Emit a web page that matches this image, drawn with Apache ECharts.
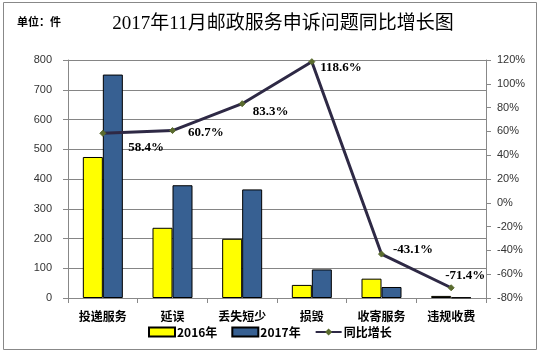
<!DOCTYPE html>
<html>
<head>
<meta charset="utf-8">
<title>2017年11月邮政服务申诉问题同比增长图</title>
<script src="https://cdn.jsdelivr.net/npm/echarts@6/dist/echarts.min.js"></script>
<style>
  html, body { margin: 0; padding: 0; background: #fff; }
  #main { width: 542px; height: 354px; }
</style>
</head>
<body>
<div id="main"></div>
<script type="text/javascript">
    // 数据
    var categories = ['投递服务', '延误', '丢失短少', '损毁', '收寄服务', '违规收费'];
    var data2016 = [474, 236, 199, 44, 65, 7];
    var data2017 = [751, 379, 365, 96, 37, 2];
    var growth = [58.4, 60.7, 83.3, 118.6, -43.1, -71.4];
    var leftTicks = [0, 800, 100];
    var rightTicks = [-80, 120, 20];

    var serif = '"Liberation Serif", "Noto Sans CJK SC", serif';
    var cjk = '"Noto Sans CJK SC", sans-serif';

    // 每个标签的位置不一样
    var labelPos = [
        { position: 'right', offset: [17, 14] },
        { position: 'right', offset: [7, 2] },
        { position: 'right', offset: [2, 8] },
        { position: 'right', offset: [0, 6] },
        { position: 'right', offset: [3, -4] },
        { position: 'top', offset: [14, 3] }
    ];

    var myChart = echarts.init(document.getElementById('main'));

    var option = {
        backgroundColor: '#fff',
        animation: false,
        title: {
            text: '2017年11月邮政服务申诉问题同比增长图',
            left: 278,
            top: 10,
            textAlign: 'center',
            textStyle: { fontFamily: serif, fontSize: 19, fontWeight: 'normal', color: '#000' }
        },
        graphic: [
            {
                type: 'rect',
                shape: { x: 3.5, y: 2.5, width: 533, height: 347 },
                style: { fill: 'none', stroke: '#888', lineWidth: 1 }
            },
            {
                type: 'text',
                left: 17,
                top: 16,
                style: { text: '单位：件', font: 'bold 11px ' + cjk, fill: '#000' }
            }
        ],
        legend: {
            bottom: 11,
            left: 143,
            itemGap: 14,
            itemWidth: 26,
            itemHeight: 9,
            textStyle: { fontFamily: cjk, fontSize: 12, fontWeight: 'bold', color: '#000', padding: [0, 0, 0, -3] },
            data: [
                { name: '2016年', icon: 'rect' },
                { name: '2017年', icon: 'rect' },
                { name: '同比增长' }
            ]
        },
        grid: {
            left: 68,
            right: 56,
            top: 60,
            bottom: 56
        },
        xAxis: {
            type: 'category',
            data: categories,
            axisLine: { lineStyle: { color: '#888' } },
            axisTick: { show: true, alignWithLabel: false, length: 5, lineStyle: { color: '#888' } },
            axisLabel: { fontFamily: cjk, fontSize: 12, fontWeight: 'bold', color: '#000', margin: 12 }
        },
        yAxis: [
            {
                type: 'value',
                min: leftTicks[0],
                max: leftTicks[1],
                interval: leftTicks[2],
                axisLine: { show: true, lineStyle: { color: '#888' } },
                axisTick: { show: true, length: 5, lineStyle: { color: '#888' } },
                axisLabel: { fontFamily: '"Liberation Sans", Arial, sans-serif', fontSize: 11, color: '#333', margin: 16 },
                splitLine: { lineStyle: { color: '#858585', width: 1 } }
            },
            {
                type: 'value',
                min: rightTicks[0],
                max: rightTicks[1],
                interval: rightTicks[2],
                position: 'right',
                axisLine: { show: true, lineStyle: { color: '#888' } },
                axisTick: { show: true, length: 5, lineStyle: { color: '#888' } },
                axisLabel: {
                    fontFamily: '"Liberation Sans", Arial, sans-serif',
                    fontSize: 11,
                    color: '#333',
                    margin: 11,
                    formatter: '{value}%'
                },
                splitLine: { show: false }
            }
        ],
        series: [
            {
                name: '2016年',
                type: 'bar',
                data: data2016,
                barWidth: 20,
                barGap: '0%',
                itemStyle: { color: '#ffff00', borderColor: '#000', borderWidth: 1 }
            },
            {
                name: '2017年',
                type: 'bar',
                data: data2017,
                barWidth: 20,
                itemStyle: { color: '#376092', borderColor: '#000', borderWidth: 1 }
            },
            {
                name: '同比增长',
                type: 'line',
                yAxisIndex: 1,
                z: 5,
                data: growth.map(function (v, i) {
                    return {
                        value: v,
                        label: labelPos[i]
                    };
                }),
                symbol: 'diamond',
                symbolSize: 6,
                lineStyle: { color: '#2e2945', width: 3 },
                itemStyle: { color: '#5a6b2f', borderColor: '#5a6b2f' },
                label: {
                    show: true,
                    fontFamily: serif,
                    fontSize: 13,
                    fontWeight: 'bold',
                    color: '#000',
                    formatter: function (p) { return p.value.toFixed(1) + '%'; }
                }
            }
        ]
    };

    myChart.setOption(option);
</script>
</body>
</html>
